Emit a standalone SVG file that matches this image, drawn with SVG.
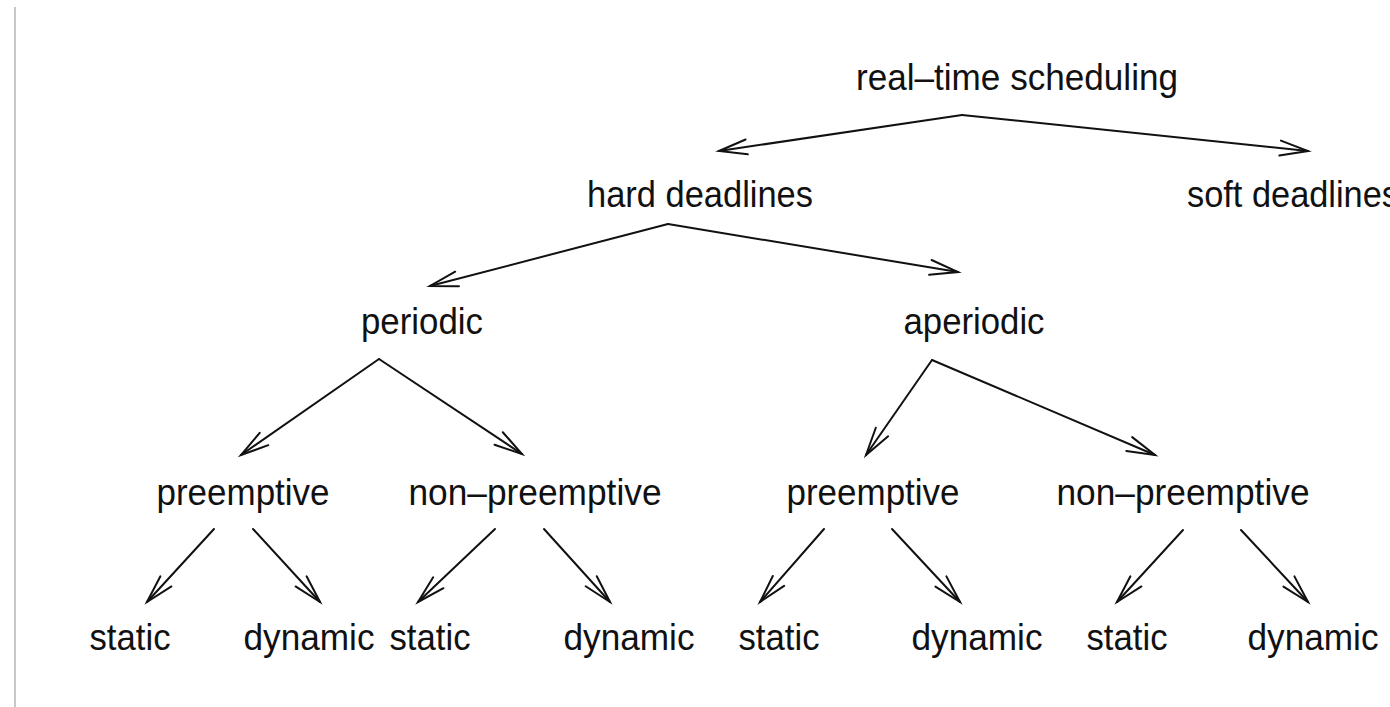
<svg xmlns="http://www.w3.org/2000/svg" width="1390" height="707" viewBox="0 0 1390 707">
<style>
  .lbl { font-family: "Liberation Sans", Arial, sans-serif; font-size: 37px; fill: #111; text-anchor: middle; }
  .edge { stroke: #111; stroke-width: 2; fill: none; stroke-linecap: round; marker-end: url(#arr); }
</style>
<defs>
  <marker id="arr" markerUnits="userSpaceOnUse" viewBox="-32 -12 34 24" markerWidth="34" markerHeight="24" refX="0" refY="0" orient="auto" overflow="visible">
    <path d="M-28,-7.5 L0,0 L-28,7.5" fill="none" stroke="#111" stroke-width="2" stroke-linecap="round" stroke-linejoin="miter"/>
  </marker>
</defs>
<rect x="0" y="0" width="1390" height="707" fill="#ffffff"/>
<rect x="14" y="7" width="2" height="700" fill="#c8c8c8"/>

<g id="connectors">
  <line class="edge" x1="962" y1="115" x2="719" y2="151"/>
  <line class="edge" x1="962" y1="115" x2="1308" y2="151"/>
  <line class="edge" x1="668" y1="224" x2="430" y2="286"/>
  <line class="edge" x1="668" y1="224" x2="958" y2="272"/>
  <line class="edge" x1="379" y1="359" x2="241" y2="455"/>
  <line class="edge" x1="379" y1="359" x2="522" y2="454"/>
  <line class="edge" x1="932" y1="360" x2="866" y2="455"/>
  <line class="edge" x1="932" y1="360" x2="1155" y2="455"/>
  <line class="edge" x1="214" y1="529" x2="147" y2="602"/>
  <line class="edge" x1="253" y1="529" x2="320" y2="602"/>
  <line class="edge" x1="495" y1="529" x2="418" y2="602"/>
  <line class="edge" x1="544" y1="529" x2="610" y2="602"/>
  <line class="edge" x1="824" y1="529" x2="760" y2="602"/>
  <line class="edge" x1="892" y1="529" x2="960" y2="602"/>
  <line class="edge" x1="1183" y1="530" x2="1117" y2="602"/>
  <line class="edge" x1="1241" y1="530" x2="1308" y2="602"/>
</g>

<g id="n-root"><text class="lbl" x="1017" y="90" textLength="322" lengthAdjust="spacingAndGlyphs">real–time scheduling</text></g>
<g id="n-hard"><text class="lbl" x="700" y="207" textLength="226" lengthAdjust="spacingAndGlyphs">hard deadlines</text></g>
<g id="n-soft"><text class="lbl" x="1293" y="207" textLength="212" lengthAdjust="spacingAndGlyphs">soft deadlines</text></g>
<g id="n-periodic"><text class="lbl" x="422" y="334" textLength="122" lengthAdjust="spacingAndGlyphs">periodic</text></g>
<g id="n-aperiodic"><text class="lbl" x="974" y="334" textLength="141" lengthAdjust="spacingAndGlyphs">aperiodic</text></g>
<g id="n-pre1"><text class="lbl" x="243" y="505" textLength="173" lengthAdjust="spacingAndGlyphs">preemptive</text></g>
<g id="n-np1"><text class="lbl" x="535" y="505" textLength="253" lengthAdjust="spacingAndGlyphs">non–preemptive</text></g>
<g id="n-pre2"><text class="lbl" x="873" y="505" textLength="173" lengthAdjust="spacingAndGlyphs">preemptive</text></g>
<g id="n-np2"><text class="lbl" x="1183" y="505" textLength="253" lengthAdjust="spacingAndGlyphs">non–preemptive</text></g>
<g id="n-s1"><text class="lbl" x="130" y="650" textLength="81" lengthAdjust="spacingAndGlyphs">static</text></g>
<g id="n-d1"><text class="lbl" x="309" y="650" textLength="131" lengthAdjust="spacingAndGlyphs">dynamic</text></g>
<g id="n-s2"><text class="lbl" x="430" y="650" textLength="81" lengthAdjust="spacingAndGlyphs">static</text></g>
<g id="n-d2"><text class="lbl" x="629" y="650" textLength="131" lengthAdjust="spacingAndGlyphs">dynamic</text></g>
<g id="n-s3"><text class="lbl" x="779" y="650" textLength="81" lengthAdjust="spacingAndGlyphs">static</text></g>
<g id="n-d3"><text class="lbl" x="977" y="650" textLength="131" lengthAdjust="spacingAndGlyphs">dynamic</text></g>
<g id="n-s4"><text class="lbl" x="1127" y="650" textLength="81" lengthAdjust="spacingAndGlyphs">static</text></g>
<g id="n-d4"><text class="lbl" x="1313" y="650" textLength="131" lengthAdjust="spacingAndGlyphs">dynamic</text></g>
</svg>
